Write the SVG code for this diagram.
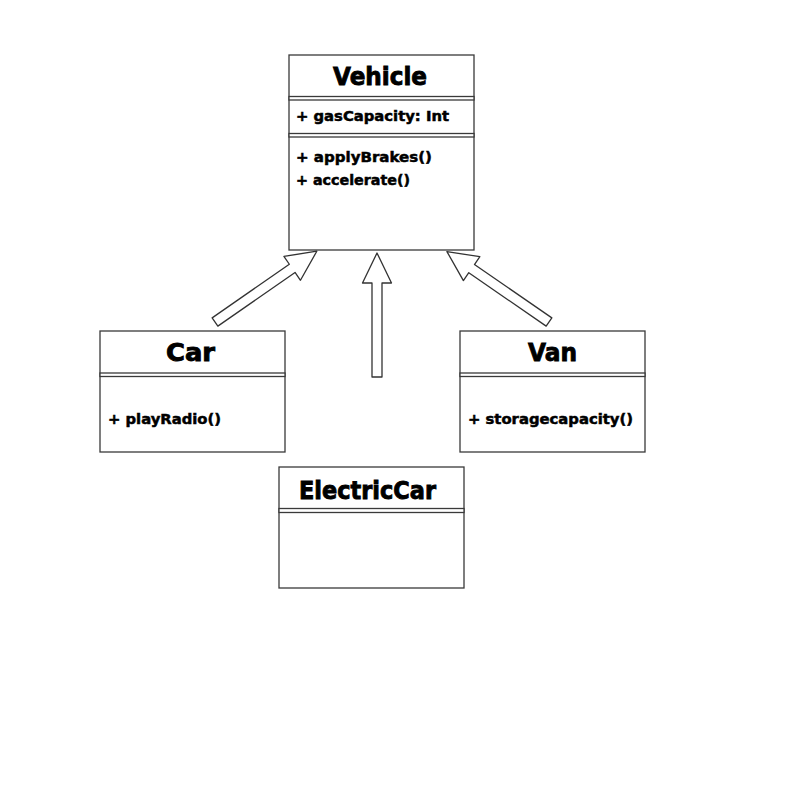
<svg xmlns="http://www.w3.org/2000/svg" xmlns:xlink="http://www.w3.org/1999/xlink" width="800" height="800" viewBox="0 0 800 800">
<style>
.box{fill:#fff;stroke:#3a3a3a;stroke-width:1.3}
.sep{fill:#fff;stroke:#3a3a3a;stroke-width:1.3}
.title{font-family:"DejaVu Sans","Liberation Sans",sans-serif;font-weight:bold;font-size:25px;fill:#000;stroke:#000;stroke-width:0.9}
.member{font-family:"DejaVu Sans","Liberation Sans",sans-serif;font-weight:bold;font-size:14px;fill:#000;stroke:#000;stroke-width:0.5}
.arrow{fill:#fff;stroke:#333;stroke-width:1.3;stroke-linejoin:round}
</style>
<defs>
<polygon id="blk" class="arrow" points="0,-5 94,-5 94,-14.5 124,0 94,14.5 94,5 0,5"/>
</defs>
<rect width="800" height="800" fill="#fff"/>
<g id="vehicle">
<rect class="box" x="289" y="55" width="185" height="195"/>
<text class="title" x="333" y="85" textLength="94" lengthAdjust="spacingAndGlyphs">Vehicle</text>
<rect class="sep" x="289" y="96.5" width="185" height="3.5"/>
<text class="member" x="296" y="121" textLength="153" lengthAdjust="spacingAndGlyphs">+ gasCapacity: Int</text>
<rect class="sep" x="289" y="133.5" width="185" height="3.5"/>
<text class="member" x="296" y="162" textLength="136" lengthAdjust="spacingAndGlyphs">+ applyBrakes()</text>
<text class="member" x="296" y="185" textLength="114" lengthAdjust="spacingAndGlyphs">+ accelerate()</text>
</g>
<g id="car">
<rect class="box" x="100" y="331" width="185" height="121"/>
<text class="title" x="166" y="361" textLength="49" lengthAdjust="spacingAndGlyphs">Car</text>
<rect class="sep" x="100" y="373" width="185" height="3.5"/>
<text class="member" x="108" y="424" textLength="113" lengthAdjust="spacingAndGlyphs">+ playRadio()</text>
</g>
<g id="van">
<rect class="box" x="460" y="331" width="185" height="121"/>
<text class="title" x="528" y="361" textLength="49" lengthAdjust="spacingAndGlyphs">Van</text>
<rect class="sep" x="460" y="373" width="185" height="3.5"/>
<text class="member" x="468" y="424" textLength="165" lengthAdjust="spacingAndGlyphs">+ storagecapacity()</text>
</g>
<g id="electriccar">
<rect class="box" x="279" y="467" width="185" height="121"/>
<text class="title" x="299" y="499" textLength="137" lengthAdjust="spacingAndGlyphs">ElectricCar</text>
<rect class="sep" x="279" y="508.5" width="185" height="4"/>
</g>
<g id="connectors">
<use xlink:href="#blk" transform="translate(215,322) rotate(-34.8)"/>
<use xlink:href="#blk" transform="translate(377,377) rotate(-90)"/>
<use xlink:href="#blk" transform="translate(549,322) rotate(-145.4)"/>
</g>
</svg>
